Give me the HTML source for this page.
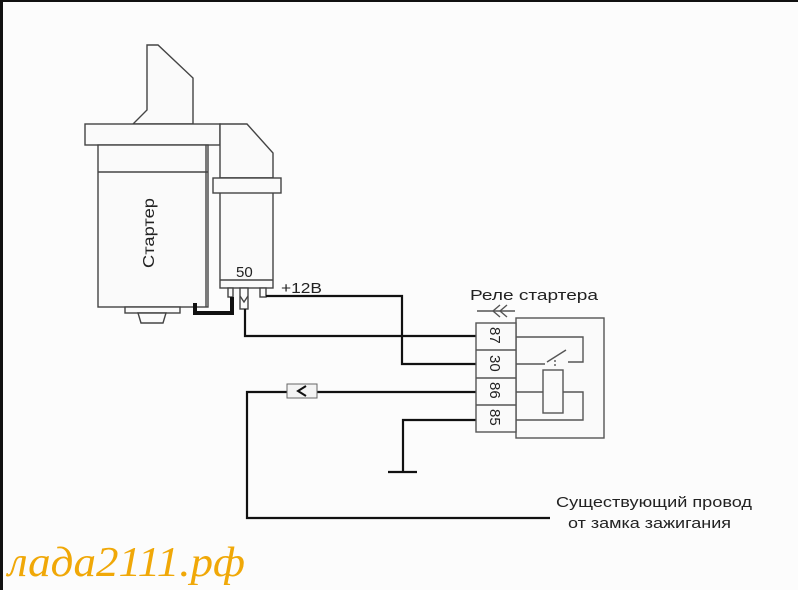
<!DOCTYPE html>
<html><head><meta charset="utf-8"><style>
html,body{margin:0;padding:0;background:#fcfcfc;}
svg{display:block;}
text{font-family:"Liberation Sans",sans-serif;fill:#222;}
</style></head><body>
<svg width="798" height="590" viewBox="0 0 798 590" xmlns="http://www.w3.org/2000/svg">
<rect width="798" height="590" fill="#fcfcfc"/>
<rect x="0" y="0" width="798" height="2" fill="#111"/>
<rect x="0" y="0" width="3" height="590" fill="#111"/>
<g fill="#fafafa" stroke="#444" stroke-width="1.4">
<polygon points="147,45 158,45 193,78 193,124 133,124 147,110"/>
<rect x="85" y="124" width="135" height="21"/>
<rect x="98" y="145" width="110" height="162"/>
<line x1="98" y1="172" x2="208" y2="172"/>
<line x1="206" y1="145" x2="206" y2="307"/>
<polygon points="220,124 247,124 273,153 273,178 220,178"/>
<rect x="220" y="178" width="53" height="110"/>
<rect x="213" y="178" width="68" height="15"/>
<line x1="220" y1="280" x2="273" y2="280"/>
<rect x="125" y="307" width="55" height="6"/>
<polygon points="138,313 166,313 163,323 141,323"/>
<rect x="228" y="288" width="5" height="9"/>
<rect x="240" y="288" width="8" height="21"/>
<polyline points="240,296 244,302 248,296" fill="none"/>
<rect x="260" y="288" width="6" height="9"/>
</g>
<text x="0" y="0" font-size="16" textLength="70" lengthAdjust="spacingAndGlyphs" transform="translate(154,268) rotate(-90)">Стартер</text>
<text x="236" y="277" font-size="15">50</text>
<text x="281" y="293" font-size="15" textLength="41" lengthAdjust="spacingAndGlyphs">+12В</text>
<g fill="none" stroke="#111" stroke-width="2.2">
<polyline points="195,303 195,313 232,313 232,297" stroke-width="4"/>
<polyline points="266,296 402,296 402,364 478,364"/>
<polyline points="245,309 245,336 478,336"/>
<polyline points="478,392 247,392 247,518 550,518"/>
<polyline points="478,420 403,420 403,472"/>
<line x1="388" y1="472" x2="417" y2="472"/>
</g>
<rect x="287" y="384" width="30" height="14" fill="#f4f4f4" stroke="#666" stroke-width="1"/>
<polyline points="306,386 298,391 306,396" fill="none" stroke="#111" stroke-width="2"/>
<g fill="#fafafa" stroke="#555" stroke-width="1.4">
<rect x="516" y="318" width="88" height="120"/>
<rect x="476" y="323" width="40" height="109"/>
<line x1="476" y1="350" x2="516" y2="350"/>
<line x1="476" y1="378" x2="516" y2="378"/>
<line x1="476" y1="405" x2="516" y2="405"/>
<polyline points="516,337 583,337 583,362 568,362" fill="none"/>
<line x1="516" y1="364" x2="545" y2="364"/>
<line x1="547" y1="362" x2="566" y2="350"/>
<line x1="555" y1="360" x2="555" y2="368" stroke-dasharray="2,2"/>
<rect x="543" y="370" width="20" height="43"/>
<line x1="516" y1="392" x2="543" y2="392"/>
<polyline points="563,392 583,392 583,420 516,420" fill="none"/>
<line x1="477" y1="311" x2="515" y2="311"/>
<polyline points="500,305 493,311 500,317" fill="none"/>
<polyline points="507,305 500,311 507,317" fill="none"/>
</g>
<g font-size="15">
<text transform="translate(490,327) rotate(90)">87</text>
<text transform="translate(490,355) rotate(90)">30</text>
<text transform="translate(490,382) rotate(90)">86</text>
<text transform="translate(490,409) rotate(90)">85</text>
</g>
<text x="470" y="300" font-size="15" textLength="128" lengthAdjust="spacingAndGlyphs">Реле стартера</text>
<text x="556" y="507" font-size="15" textLength="196" lengthAdjust="spacingAndGlyphs">Существующий провод</text>
<text x="568" y="528" font-size="15" textLength="163" lengthAdjust="spacingAndGlyphs">от замка зажигания</text>
<text x="8" y="576" font-size="42" font-style="italic" textLength="237" lengthAdjust="spacingAndGlyphs" style="font-family:'Liberation Serif',serif;fill:#f0a808">лада2111.рф</text>
</svg>
</body></html>
